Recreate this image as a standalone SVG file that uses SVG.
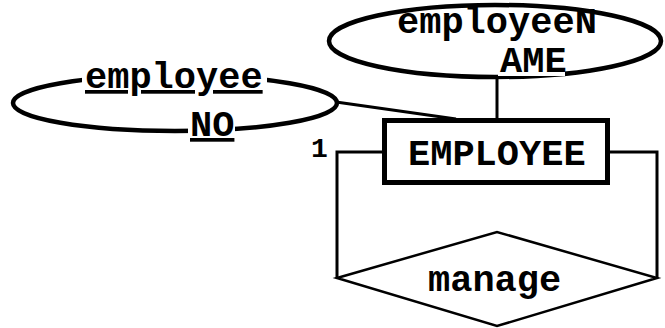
<svg xmlns="http://www.w3.org/2000/svg" width="665" height="328" viewBox="0 0 665 328">
  <style>
    .lbl { font-family: "Liberation Mono", "Courier New", monospace; font-weight: bold; font-size: 37px; fill: #000; }
    .card { font-family: "Liberation Mono", "Courier New", monospace; font-weight: bold; font-size: 28px; fill: #000; }
    .attr { fill: #fff; stroke: #000; stroke-width: 4.5; }
    .ent { fill: #fff; stroke: #000; stroke-width: 5; }
    .rel { fill: #fff; stroke: #000; stroke-width: 2.5; }
    .link { fill: none; stroke: #000; stroke-width: 3; }
    .bg { fill: #fff; stroke: none; }
  </style>

  <!-- connectors -->
  <g id="connectors">
    <line class="link" x1="336" y1="102" x2="456" y2="119"/>
    <line class="link" x1="497" y1="77" x2="497" y2="119"/>
    <polyline class="link" points="384,152 337,152 337,278"/>
    <polyline class="link" points="608,152 657,152 657,278"/>
  </g>

  <!-- attribute: employeeNO (key); label boxes sit over the outline -->
  <g id="attr-employeeNO">
    <ellipse class="attr" cx="175" cy="103" rx="162" ry="28"/>
    <rect class="bg" x="82" y="68" width="185" height="28"/>
    <rect class="bg" x="188" y="112" width="47" height="30"/>
    <text class="lbl" x="85" y="88" text-decoration="underline">employee</text>
    <text class="lbl" x="190" y="136" text-decoration="underline">NO</text>
  </g>

  <!-- attribute: employeeNAME -->
  <g id="attr-employeeNAME">
    <ellipse class="attr" cx="495" cy="41" rx="166" ry="36"/>
    <rect class="bg" x="498" y="52" width="67" height="24"/>
    <text class="lbl" x="397" y="33">employeeN</text>
    <text class="lbl" x="500" y="72">AME</text>
  </g>

  <!-- entity: EMPLOYEE -->
  <g id="entity-EMPLOYEE">
    <rect class="ent" x="384.5" y="120.5" width="223" height="62"/>
    <text class="lbl" x="408" y="165">EMPLOYEE</text>
  </g>

  <!-- relationship: manage -->
  <g id="rel-manage">
    <polygon class="rel" points="337,278 497,232 657,278 497,326"/>
    <text class="lbl" x="428" y="291">manage</text>
  </g>

  <!-- cardinality -->
  <g id="card-1">
    <text class="card" x="311" y="157">1</text>
  </g>
</svg>
